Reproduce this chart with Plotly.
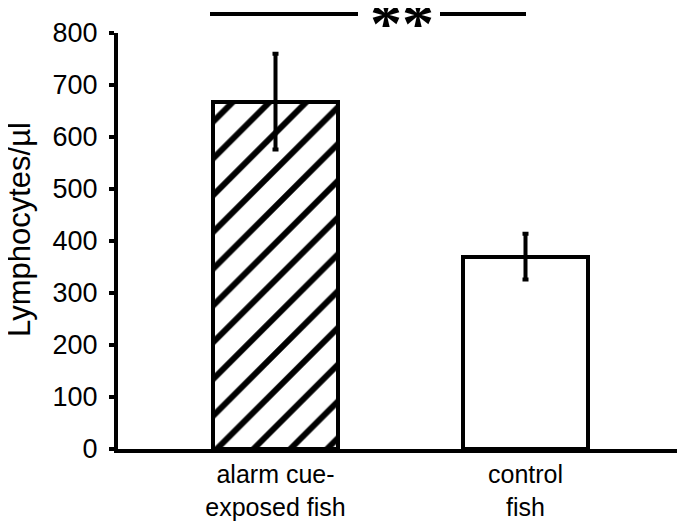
import plotly.graph_objects as go

# ---- data ----
categories = ["alarm cue-<br>exposed fish", "control<br>fish"]
cat_pos = [0, 1]
lymphocytes = [668, 370]
sem = [92, 44]
y_ticks = [0, 100, 200, 300, 400, 500, 600, 700, 800]
y_title = "Lymphocytes/µl"
sig_label = "**"

fig = go.Figure()

fig.add_trace(go.Bar(
    x=cat_pos,
    y=lymphocytes,
    width=0.5,
    marker=dict(
        color="white",
        line=dict(color="black", width=4),
        pattern=dict(shape=["/", ""], size=26, solidity=0.23,
                     fgcolor="black", bgcolor="white", fillmode="replace"),
    ),
    error_y=dict(type="data", array=sem, visible=True,
                 color="black", thickness=4, width=3),
    showlegend=False,
))

fig.update_layout(
    width=677, height=515,
    margin=dict(l=110, r=2, t=25, b=74),
    paper_bgcolor="white", plot_bgcolor="white",
    font=dict(family="Liberation Sans, Arial, sans-serif", color="black"),
    xaxis=dict(
        range=[-0.63, 1.63],
        tickvals=cat_pos, ticktext=categories,
        showline=True, linewidth=4, linecolor="black",
        ticks="", showgrid=False, zeroline=False,
        tickfont=dict(size=25),
    ),
    yaxis=dict(
        range=[0, 800], tickvals=y_ticks,
        showline=True, linewidth=4, linecolor="black",
        ticks="outside", ticklen=5, tickwidth=4, tickcolor="black",
        showgrid=False, zeroline=False,
        tickfont=dict(size=27),
        ticklabelstandoff=6,
    ),
    bargap=0,
)

# y-axis title
fig.add_annotation(
    text=y_title, textangle=-90, xref="paper", yref="paper",
    x=-0.1735, y=0.529, xanchor="center", yanchor="middle",
    showarrow=False, font=dict(size=31),
)

# significance marker
sig_y = 1.0457
fig.add_shape(type="line", xref="x", yref="paper", x0=-0.262, x1=0.33,
              y0=sig_y, y1=sig_y, line=dict(color="black", width=4))
fig.add_shape(type="line", xref="x", yref="paper", x0=0.658, x1=1.002,
              y0=sig_y, y1=sig_y, line=dict(color="black", width=4))
fig.add_annotation(
    text="<b>" + sig_label + "</b>", xref="x", yref="paper", x=0.506, y=sig_y,
    xanchor="center", yanchor="middle", showarrow=False,
    font=dict(size=64, family="Liberation Serif, Times New Roman, serif"),
    yshift=-10,
)

fig.write_html("out.html")
